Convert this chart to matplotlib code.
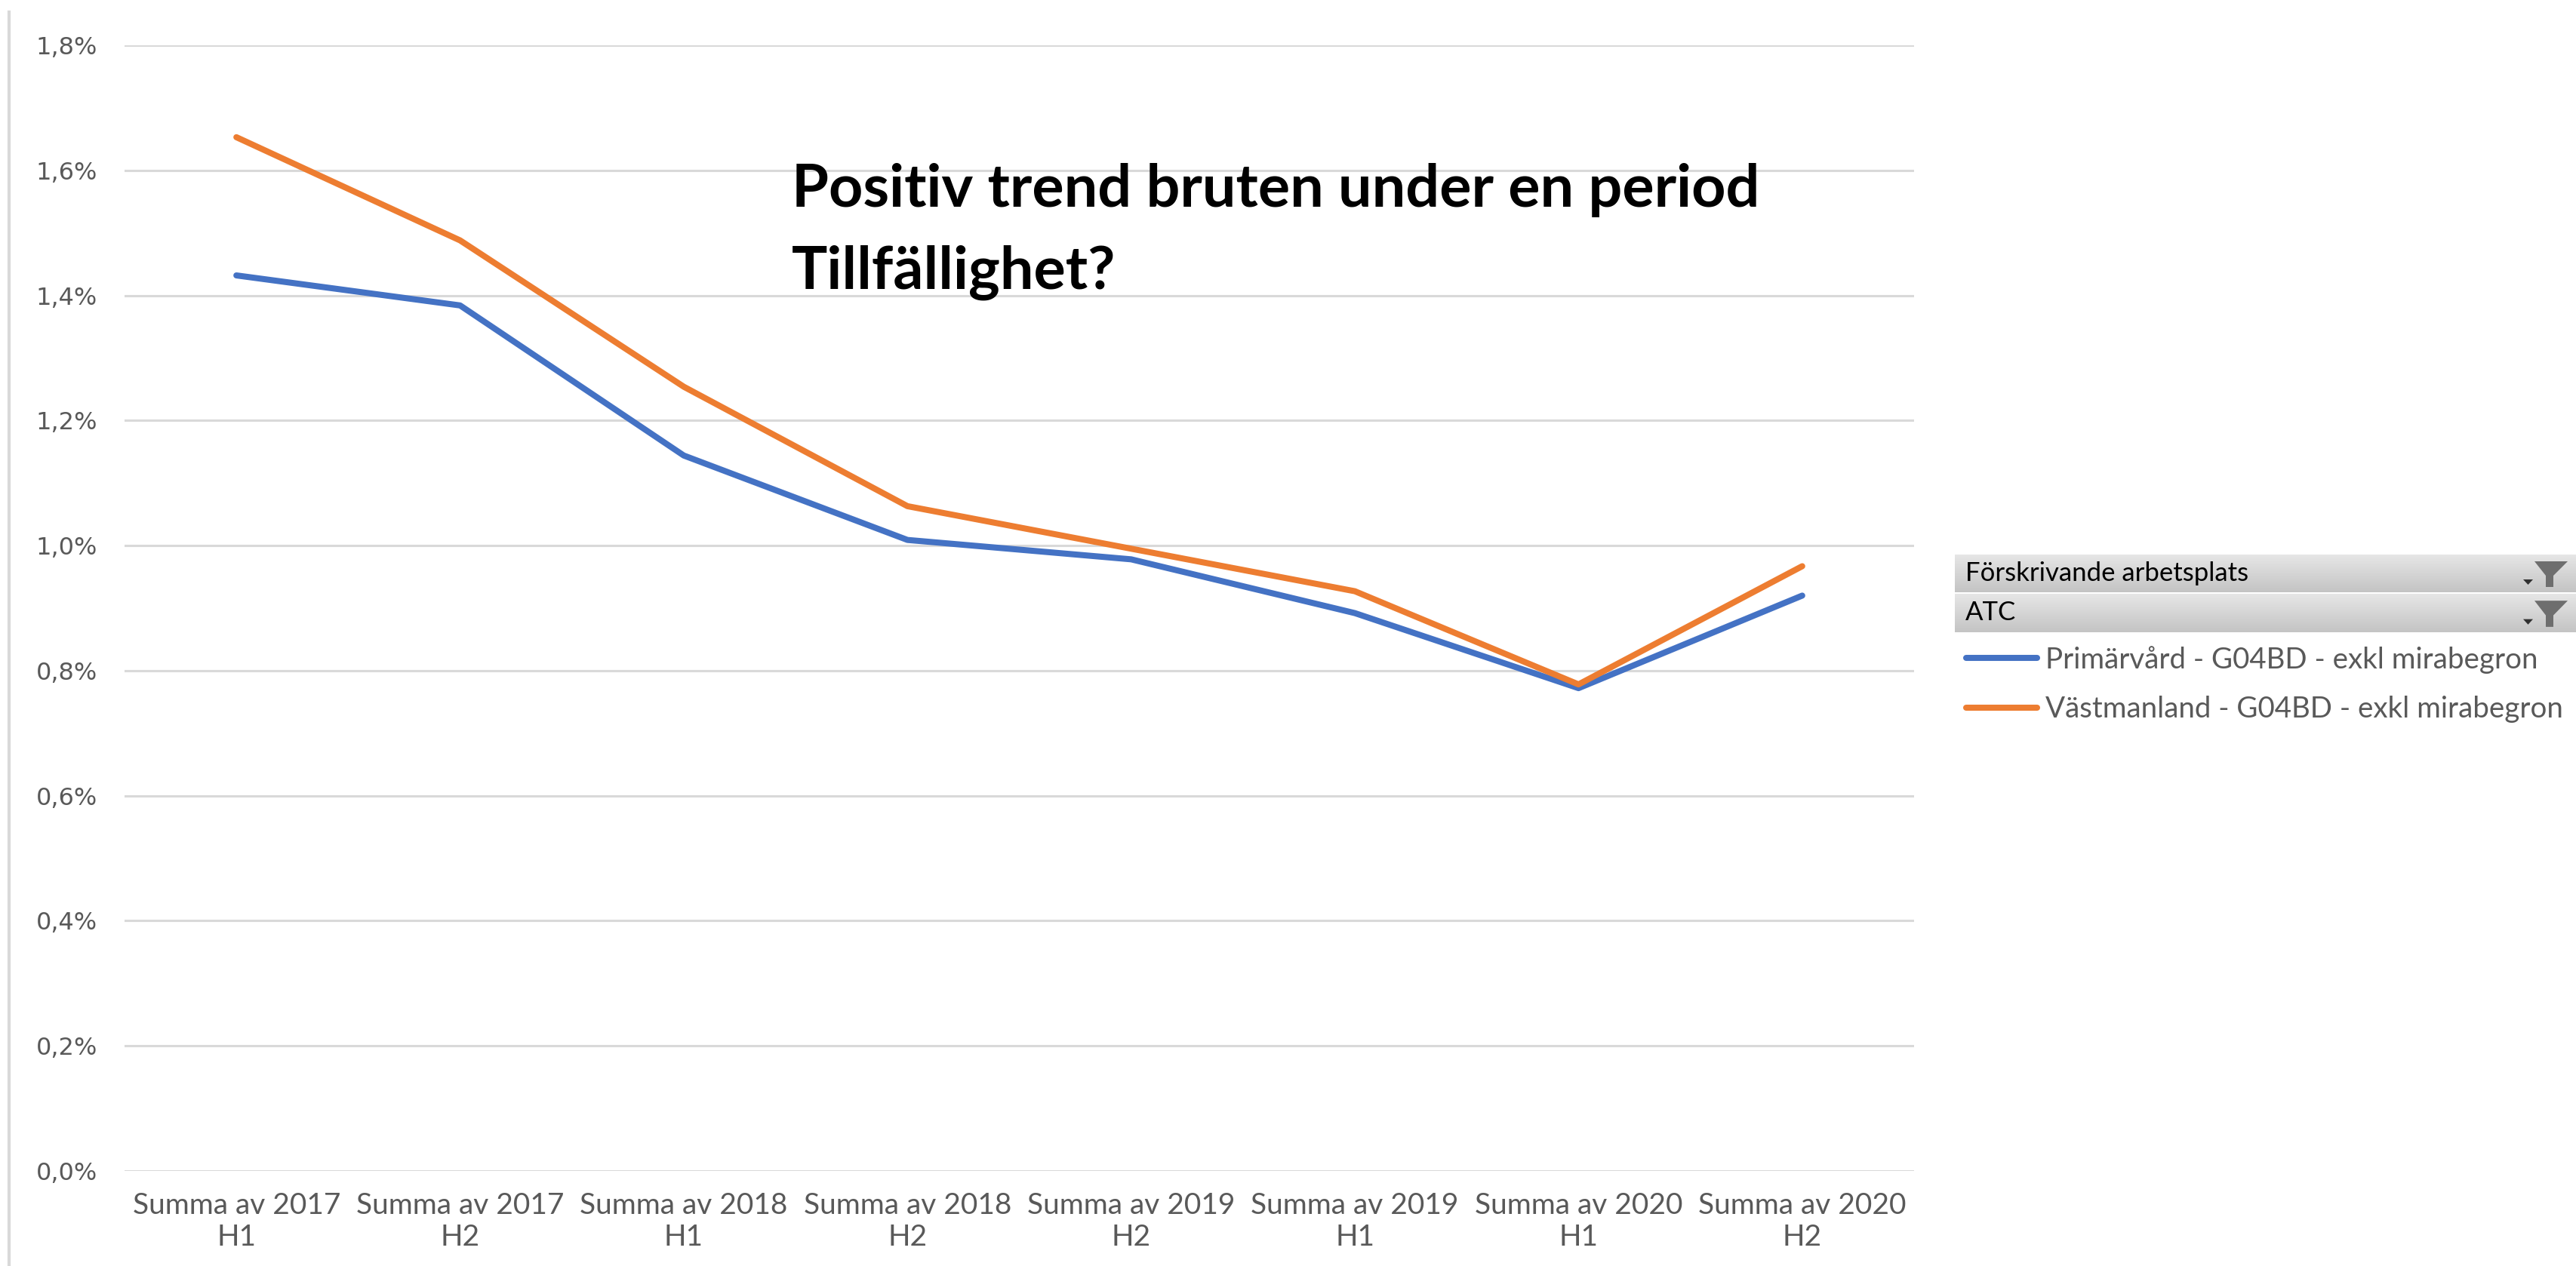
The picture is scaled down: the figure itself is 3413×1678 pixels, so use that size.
import numpy as np
import matplotlib
matplotlib.use("Agg")
import matplotlib.pyplot as plt
from matplotlib.ticker import FuncFormatter, MultipleLocator
from matplotlib.patches import Polygon
from matplotlib.lines import Line2D
from matplotlib.colors import LinearSegmentedColormap

# data (percent)
categories = ["Summa av 2017\nH1", "Summa av 2017\nH2", "Summa av 2018\nH1",
              "Summa av 2018\nH2", "Summa av 2019\nH2", "Summa av 2019\nH1",
              "Summa av 2020\nH1", "Summa av 2020\nH2"]
primarvard = [1.432, 1.384, 1.144, 1.009, 0.978, 0.892, 0.772, 0.920]
vastmanland = [1.653, 1.488, 1.254, 1.063, 0.995, 0.927, 0.778, 0.967]
series_names = ["Primärvård - G04BD - exkl mirabegron",
                "Västmanland - G04BD - exkl mirabegron"]
filter_fields = ["Förskrivande arbetsplats", "ATC"]
colors = ["#4472C4", "#ED7D31"]

W, H = 3413, 1678
fig = plt.figure(figsize=(W / 100, H / 100), dpi=100)
fig.patch.set_facecolor("white")

# axes placed in pixel terms
x0, x1 = 165, 2536
y_top, y_bot = 60, 1552
ax = fig.add_axes([x0 / W, 1 - y_bot / H, (x1 - x0) / W, (y_bot - y_top) / H])

x = np.arange(len(categories))
for vals, c, name in zip([primarvard, vastmanland], colors, series_names):
    ax.plot(x, vals, color=c, lw=5.8, solid_capstyle="round",
            solid_joinstyle="round", label=name, zorder=3)

ax.set_xlim(-0.5, len(categories) - 0.5)
ax.set_ylim(0, 1.8)
ax.yaxis.set_major_locator(MultipleLocator(0.2))
ax.yaxis.set_major_formatter(FuncFormatter(lambda v, p: f"{v:.1f}%".replace(".", ",")))
ax.grid(axis="y", color="#D9D9D9", lw=2.2)
ax.set_axisbelow(True)
for s in ax.spines.values():
    s.set_visible(False)
ax.set_xticks(x)
ax.set_xticklabels(categories, fontsize=28, color="#595959", family=["Lato", "DejaVu Sans"],
                   linespacing=1.2)
ax.tick_params(axis="x", length=0, pad=20)
ax.tick_params(axis="y", length=0, pad=26, labelsize=23, labelcolor="#595959")

# left frame line
fig.add_artist(Line2D([12 / W, 12 / W], [0, 1 - 16 / H], color="#D9D9D9", lw=3))

# annotation text
fig.text(1049 / W, 1 - 274 / H, "Positiv trend bruten under en period", fontsize=57,
         fontweight="bold", family="Lato", va="baseline", ha="left", color="black")
fig.text(1049 / W, 1 - 383 / H, "Tillfällighet?", fontsize=57,
         fontweight="bold", family="Lato", va="baseline", ha="left", color="black")

# filter header rows (pivot chart field buttons)
grad = np.linspace(0, 1, 64).reshape(-1, 1)
cmap = LinearSegmentedColormap.from_list("g", ["#E6E6E6", "#C4C4C4"])
hx = 2590
hw = W - hx


def px(v):
    return (v - hx) / hw


for (ta, tb), label in zip([(735, 785), (787, 838)], filter_fields):
    hax = fig.add_axes([hx / W, 1 - tb / H, hw / W, (tb - ta) / H])
    hax.imshow(grad, aspect="auto", cmap=cmap, extent=[0, 1, 0, 1], origin="upper")
    hax.set_axis_off()
    hax.text(px(2604), 0.5, label, fontsize=25, family="Lato", va="center",
             ha="left", color="black", transform=hax.transAxes)
    # funnel icon
    hax.add_patch(Polygon([[px(3358), 0.82], [px(3402), 0.82], [px(3383), 0.44],
                           [px(3383), 0.14], [px(3373), 0.14], [px(3373), 0.44]],
                          closed=True, facecolor="#6E6E6E", edgecolor="none",
                          transform=hax.transAxes))
    # dropdown arrow
    hax.add_patch(Polygon([[px(3343), 0.34], [px(3356), 0.34], [px(3349.5), 0.2]],
                          closed=True, facecolor="#303030", edgecolor="none",
                          transform=hax.transAxes))

# legend
leg = ax.legend(loc="upper left", bbox_to_anchor=(2605 / W, 1 - 856 / H),
                bbox_transform=fig.transFigure, frameon=False,
                prop={"family": "Lato", "size": 27.7}, handlelength=2.44,
                handletextpad=0.29, labelspacing=0.77, borderpad=0, borderaxespad=0)
for t in leg.get_texts():
    t.set_color("#595959")

fig.savefig("out.png", dpi=100)
